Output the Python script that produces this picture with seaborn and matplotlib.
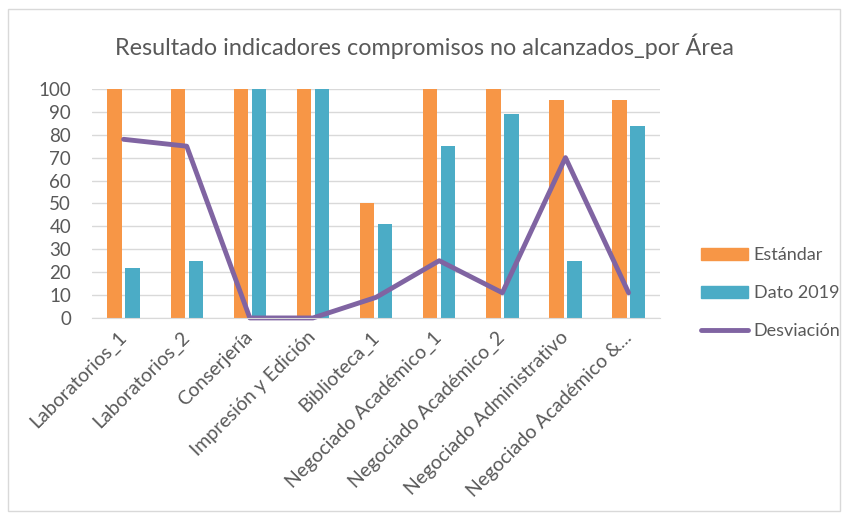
import pandas as pd
import matplotlib.pyplot as plt
import seaborn as sns
from matplotlib.patches import Rectangle, Patch
from matplotlib.lines import Line2D

# --- DATA ---
areas = ["Laboratorios_1", "Laboratorios_2", "Conserjería", "Impresión y Edición",
         "Biblioteca_1", "Negociado Académico_1", "Negociado Académico_2",
         "Negociado Administrativo", "Negociado Académico &..."]
estandar = [100, 100, 100, 100, 50, 100, 100, 95, 95]
dato_2019 = [22, 25, 100, 100, 41, 75, 89, 25, 84]
desviacion = [78, 75, 0, 0, 9, 25, 11, 70, 11]

ORANGE = "#F79646"
BLUE = "#4BACC6"
PURPLE = "#8064A2"
TEXT = "#595959"

sns.set_style("white")
plt.rcParams["font.family"] = ["Lato", "DejaVu Sans"]

bars = pd.DataFrame({
    "area": areas * 2,
    "valor": estandar + dato_2019,
    "serie": ["Estándar"] * len(areas) + ["Dato 2019"] * len(areas),
})

fig = plt.figure(figsize=(8.48, 5.17), dpi=100)
ax = fig.add_axes([0.1085, 0.385, 0.67, 0.443])

sns.barplot(data=bars, x="area", y="valor", hue="serie",
            palette=[ORANGE, BLUE], width=0.57, gap=0.2,
            saturation=1, linewidth=0, legend=False, ax=ax)
sns.lineplot(x=areas, y=desviacion, color=PURPLE, linewidth=3.5,
             sort=False, ax=ax, clip_on=False)

ax.set_ylim(0, 100)
ax.set_xlim(-0.5, len(areas) - 0.5)
ax.set_yticks(range(0, 101, 10))
ax.yaxis.grid(True, color="#d9d9d9", linewidth=1)
ax.set_axisbelow(True)
for s in ["top", "right", "left"]:
    ax.spines[s].set_visible(False)
ax.spines["bottom"].set_color("#d9d9d9")
ax.set_xlabel("")
ax.set_ylabel("")
ax.tick_params(axis="y", length=0, labelsize=13.5, colors=TEXT, pad=15)
ax.tick_params(axis="x", length=0, labelsize=14, colors=TEXT, pad=12)
plt.setp(ax.get_xticklabels(), rotation=45, ha="right", va="center",
         rotation_mode="anchor")

fig.suptitle("Resultado indicadores compromisos no alcanzados_por Área",
             x=0.5, y=0.935, fontsize=16.8, color=TEXT)

handles = [Patch(color=ORANGE, label="Estándar"),
           Patch(color=BLUE, label="Dato 2019"),
           Line2D([0], [0], color=PURPLE, linewidth=3.5, label="Desviación")]
fig.legend(handles=handles, loc="center left", bbox_to_anchor=(0.807, 0.433),
           frameon=False, fontsize=13, handlelength=2.6, handleheight=0.65,
           handletextpad=0.35, labelspacing=1.2, labelcolor=TEXT)

fig.patches.append(Rectangle((0.009, 0.012), 0.982, 0.97, transform=fig.transFigure,
                             fill=False, edgecolor="#d9d9d9", linewidth=1))

fig.savefig("out.png", dpi=100)
